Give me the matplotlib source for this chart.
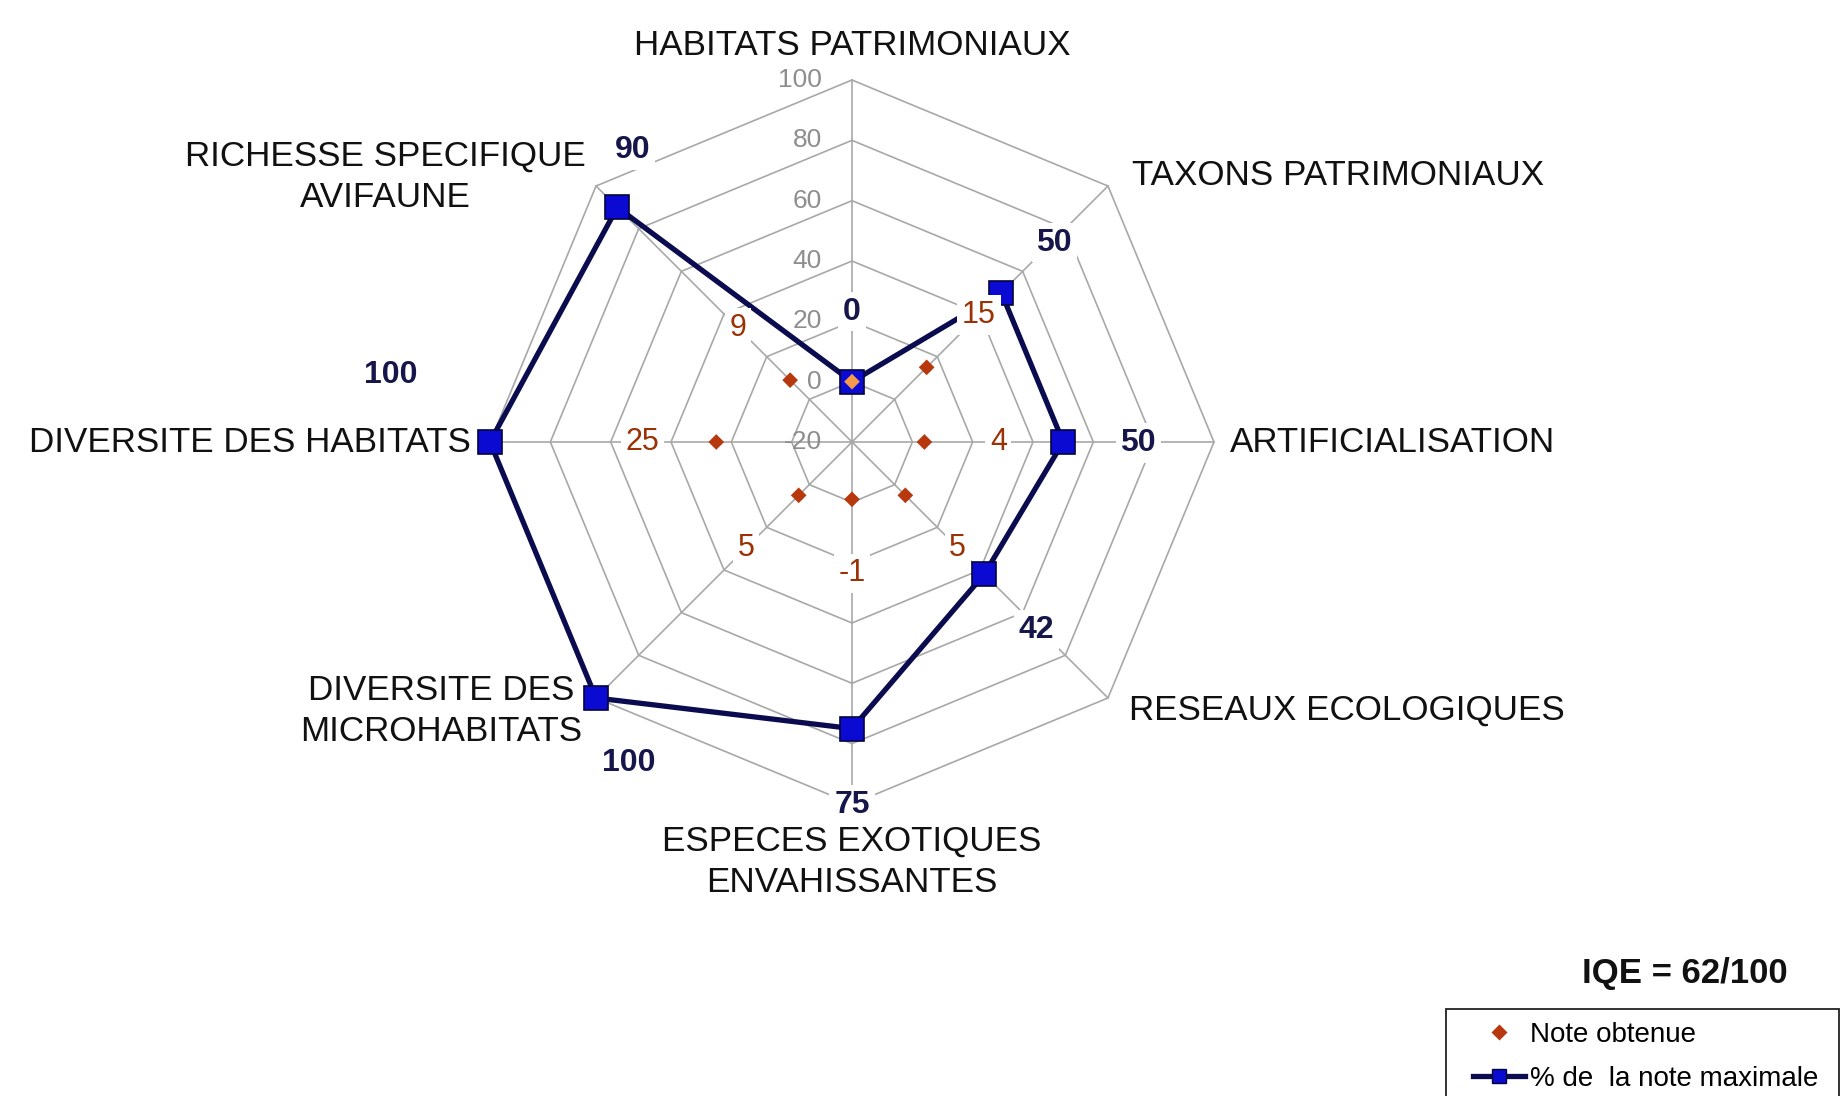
import numpy as np
import matplotlib
matplotlib.use("Agg")
import matplotlib.pyplot as plt
from matplotlib.patches import Rectangle
from matplotlib.lines import Line2D

plt.rcParams['font.family'] = ['Liberation Sans', 'DejaVu Sans']

# ---------------- data ----------------
categories = ["HABITATS PATRIMONIAUX", "TAXONS PATRIMONIAUX", "ARTIFICIALISATION",
              "RESEAUX ECOLOGIQUES", "ESPECES EXOTIQUES\nENVAHISSANTES",
              "DIVERSITE DES\nMICROHABITATS", "DIVERSITE DES HABITATS",
              "RICHESSE SPECIFIQUE\nAVIFAUNE"]
note_obtenue = [0, 15, 4, 5, -1, 5, 25, 9]
pct_note_max = [0, 50, 50, 42, 75, 100, 100, 90]
radial_ticks = [-20, 0, 20, 40, 60, 80, 100]
iqe_text = "IQE = 62/100"
legend_labels = ["Note obtenue", "% de  la note maximale"]

# ---------------- styles / layout ----------------
W, H = 1847, 1096
CX, CY = 852, 442              # centre of radar in pixels (from top-left)
RPX = 362                      # pixel radius of outer ring
rmin, rmax = radial_ticks[0], radial_ticks[-1]
K = RPX / (rmax - rmin)        # pixels per value unit

GRID = '#a8a8a8'
NAVY = '#0b0b4f'
BLUE_FILL = '#0a0ad2'
RED = '#b8380e'
RED_TXT = '#9a3206'
BLUE_TXT = '#16164a'
TICK_TXT = '#8e8e8e'

# label offsets in pixels (dx, dy up)
cat_offsets = [(0, 35, 'center'), (24, 11, 'left'), (16, 0, 'left'), (21, -12, 'left'),
               (0, -58, 'center'), (-155, -13, 'center'), (-19, 0, 'right'), (-211, 9, 'center')]
blue_offsets = [(0, 70), (53, 50), (75, -1), (52, -56), (0, -76), (33, -65), (-99, 67), (15, 57)]
red_radial_px = 74
red_hidden = [0]               # red label hidden behind the blue "0" label

n = len(categories)
theta = np.pi / 2 - np.arange(n) * 2 * np.pi / n

def to_xy(vals):
    r = np.asarray(vals, dtype=float) - rmin
    return r * np.cos(theta), r * np.sin(theta)

fig = plt.figure(figsize=(W / 100, H / 100), dpi=100)
ax = fig.add_axes([0, 0, 1, 1])
ax.set_xlim(-CX / K, (W - CX) / K)
ax.set_ylim(-(H - CY) / K, CY / K)
ax.set_aspect('equal')
ax.axis('off')

# grid octagons
for t in radial_ticks[1:]:
    gx, gy = to_xy([t] * n)
    ax.plot(np.append(gx, gx[0]), np.append(gy, gy[0]), color=GRID, lw=1.2, zorder=1)
# spokes
ox, oy = to_xy([rmax] * n)
for i in range(n):
    ax.plot([0, ox[i]], [0, oy[i]], color=GRID, lw=1.2, zorder=1)

# radial tick labels
for t in radial_ticks:
    ax.annotate(str(t), xy=(0, t - rmin), xytext=(-30, 0), textcoords='offset pixels',
                ha='right', va='center', fontsize=19, color=TICK_TXT, zorder=2)

# category labels
for i, cat in enumerate(categories):
    dx, dy, ha = cat_offsets[i]
    ax.annotate(cat, xy=(ox[i], oy[i]), xytext=(dx, dy), textcoords='offset pixels',
                ha=ha, va='center', fontsize=25.2, color='#111111', linespacing=1.3,
                multialignment='center', zorder=6)

# % de la note maximale
bx, by = to_xy(pct_note_max)
ax.plot(np.append(bx, bx[0]), np.append(by, by[0]), color=NAVY, lw=3.8, zorder=3,
        solid_joinstyle='miter')
ax.plot(bx, by, ls='none', marker='s', ms=17, mfc=BLUE_FILL, mec='#05053a', mew=1.2, zorder=4)

# note obtenue
rx, ry = to_xy(note_obtenue)
diamond_colors = ['#f49a4c'] + [RED] * (n - 1)
ax.scatter(rx, ry, marker='D', s=8 ** 2, c=diamond_colors, edgecolors='none', zorder=5)

# red value labels
for i, v in enumerate(note_obtenue):
    if i in red_hidden:
        continue
    ax.annotate(str(v), xy=(rx[i], ry[i]),
                xytext=(red_radial_px * np.cos(theta[i]), red_radial_px * np.sin(theta[i])),
                textcoords='offset pixels', ha='center', va='center', fontsize=22,
                color=RED_TXT, zorder=6,
                bbox=dict(boxstyle='square,pad=0.15', fc='white', ec='none'))

# blue value labels
for i, v in enumerate(pct_note_max):
    dx, dy = blue_offsets[i]
    ax.annotate(str(v), xy=(bx[i], by[i]), xytext=(dx, dy), textcoords='offset pixels',
                ha='center', va='center', fontsize=23, fontweight='bold',
                color=BLUE_TXT, zorder=7,
                bbox=dict(boxstyle='square,pad=0.15', fc='white', ec='none'))

# IQE
fig.text(1788 / W, 1 - 973 / H, iqe_text, ha='right', va='center', fontsize=25,
         fontweight='bold', color='#111111')

# legend box
rect = Rectangle((1446 / W, -0.05), (1839 - 1446) / W, (1 - 1009 / H) + 0.05,
                 transform=fig.transFigure, fc='white', ec='#222222', lw=1.3, zorder=8)
fig.add_artist(rect)
handles = [Line2D([], [], ls='none', marker='D', ms=8, mfc=RED, mec='none'),
           Line2D([], [], color=NAVY, lw=3.8, marker='s', ms=10, mfc=BLUE_FILL, mec='#05053a')]
leg = fig.legend(handles, legend_labels, loc='upper left',
                 bbox_to_anchor=(1473 / W, 1 - 1022 / H), frameon=False, fontsize=20,
                 handlelength=1.87, handletextpad=0.2, borderpad=0, borderaxespad=0,
                 labelspacing=0.65)
leg.set_zorder(9)

fig.savefig('out.png', dpi=100)
